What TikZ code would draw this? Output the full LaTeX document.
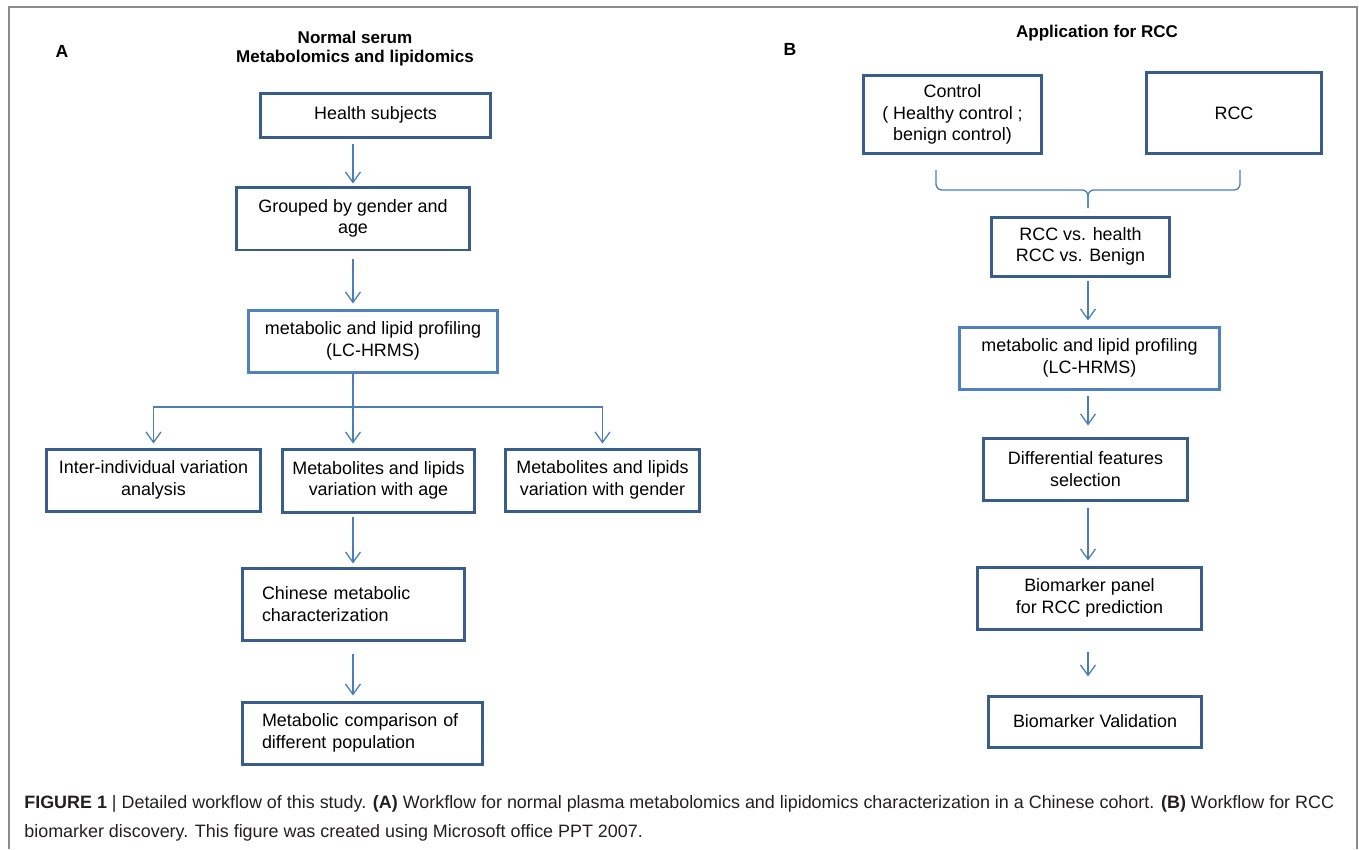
\documentclass[tikz,border=0pt]{standalone}
\usepackage{fontspec}
\setmainfont{Liberation Sans}
\usetikzlibrary{arrows.meta}
\definecolor{boxdark}{HTML}{385D8A}
\definecolor{boxlight}{HTML}{4F81BD}
\definecolor{linkblue}{HTML}{4A7EBB}
\definecolor{framegray}{HTML}{8C8C8C}
\definecolor{captext}{HTML}{231F20}
\tikzset{>={Straight Barb[length=0.21cm,width=0.3cm]}}
\tikzset{
  darkbox/.style={rectangle,draw=boxdark,line width=0.06cm,inner sep=0pt,align=center,font=\fontsize{10.2}{12.3}\selectfont},
  lightbox/.style={darkbox,draw=boxlight},
  link/.style={draw=linkblue,line width=0.026cm},
  flow/.style={link,->,shorten <=0.1cm,shorten >=0.08cm},
  curly/.style={link,rounded corners=0.12cm},
  panelhead/.style={font=\fontsize{9.7}{10.8}\selectfont\bfseries,align=center},
  panelmark/.style={font=\fontsize{10}{12}\selectfont\bfseries},
  capline/.style={anchor=base west,inner sep=0pt,text=captext,font=\fontsize{10.2}{12}\selectfont},
}

\begin{document}
\begin{tikzpicture}[x=0.02cm,y=-0.02cm]
\useasboundingbox (0,0) rectangle (1359,849);
\draw[framegray,line width=0.03cm] (9,849) |- (1357,7) -- (1357,849);
% panel A
\node[panelmark] (markA) at (62,51) {A};
\node[panelhead] (headA) at (355,49) {Normal serum\\Metabolomics and lipidomics};
\node[darkbox,minimum width=4.62cm,minimum height=0.88cm] (health) at (375.5,115) {Health subjects};
\node[darkbox,minimum width=4.68cm,minimum height=1.26cm] (group) at (353,218.5) {Grouped by gender and\\age};
\node[lightbox,minimum width=5.0cm,minimum height=1.24cm] (profA) at (373,341) {metabolic and lipid profiling\\(LC-HRMS)};
\node[darkbox,minimum width=4.3cm,minimum height=1.24cm] (inter) at (153.5,480) {Inter-individual variation\\analysis};
\node[darkbox,minimum width=3.86cm,minimum height=1.26cm] (age) at (378.5,480.5) {Metabolites and lipids\\variation with age};
\node[darkbox,minimum width=3.9cm,minimum height=1.24cm] (gender) at (602.5,480) {Metabolites and lipids\\variation with gender};
\node[darkbox,align=left,inner xsep=0.4cm,text width=3.66cm,minimum height=1.44cm] (chinese) at (353.5,604) {Chinese metabolic\\characterization};
\node[darkbox,align=left,inner xsep=0.4cm,text width=4.02cm,minimum height=1.24cm] (compare) at (362.5,733) {Metabolic comparison of\\different population};
\coordinate (colA) at (353,0);
\coordinate (split) at (353,407);
\draw[flow,shorten <=0.12cm,shorten >=0.04cm] (health.south -| colA) -- (group.north -| colA);
\draw[flow,shorten <=0.16cm,shorten >=0.1cm] (group.south -| colA) -- (profA.north -| colA);
\draw[link] (profA.south -| colA) -- (split);
\draw[flow,shorten <=0pt] (split) -| (inter.north);
\draw[flow,shorten <=0pt] (split) -- (split |- age.north);
\draw[flow,shorten <=0pt] (split) -| (gender.north);
\draw[flow,shorten <=0.06cm,shorten >=0.06cm] (age.south -| colA) -- (chinese.north -| colA);
\draw[flow,shorten <=0.24cm,shorten >=0.1cm] (chinese.south -| colA) -- (compare.north -| colA);
% panel B
\node[panelmark] (markB) at (790,49) {B};
\node[panelhead] (headB) at (1097,33) {Application for RCC};
\node[darkbox,minimum width=3.58cm,minimum height=1.58cm] (control) at (952.5,114.5) {Control\\( Healthy control ;\\benign control)};
\node[darkbox,minimum width=3.52cm,minimum height=1.64cm] (rcc) at (1234,113) {RCC};
\coordinate (brL) at (936,170);
\coordinate (brR) at (1240,170);
\coordinate (brC) at (1088,190);
\coordinate (brM) at (1088,208);
\draw[curly] (brL) |- (brC) -- (brM);
\draw[curly] (brR) |- (brC) -- (brM);
\node[darkbox,minimum width=3.58cm,minimum height=1.18cm] (vs) at (1080.5,246.5) {RCC vs. health\\RCC vs. Benign};
\node[lightbox,minimum width=5.22cm,minimum height=1.24cm] (profB) at (1089.5,358) {metabolic and lipid profiling\\(LC-HRMS)};
\node[darkbox,minimum width=4.1cm,minimum height=1.24cm] (diff) at (1085.5,469) {Differential features\\selection};
\node[darkbox,minimum width=4.5cm,minimum height=1.24cm] (panel) at (1089.5,598) {Biomarker panel\\for RCC prediction};
\node[darkbox,minimum width=4.28cm,minimum height=1.02cm] (valid) at (1095,721.5) {Biomarker Validation};
\coordinate (colB) at (1088,0);
\draw[flow,shorten <=0.08cm,shorten >=0.1cm] (vs.south -| colB) -- (profB.north -| colB);
\draw[flow,shorten >=0.22cm] (profB.south -| colB) -- (diff.north -| colB);
\draw[flow,shorten <=0.12cm,shorten >=0.1cm] (diff.south -| colB) -- (panel.north -| colB);
\draw[flow,shorten <=0.42cm,shorten >=0.36cm] (panel.south -| colB) -- (valid.north -| colB);
% caption
\node[capline] (cap1) at (24,808) {\textbf{FIGURE 1} | Detailed workflow of this study. \textbf{(A)} Workflow for normal plasma metabolomics and lipidomics characterization in a Chinese cohort. \textbf{(B)} Workflow for RCC};
\node[capline] (cap2) at (24,837) {biomarker discovery. This figure was created using Microsoft office PPT 2007.};
\end{tikzpicture}
\end{document}
